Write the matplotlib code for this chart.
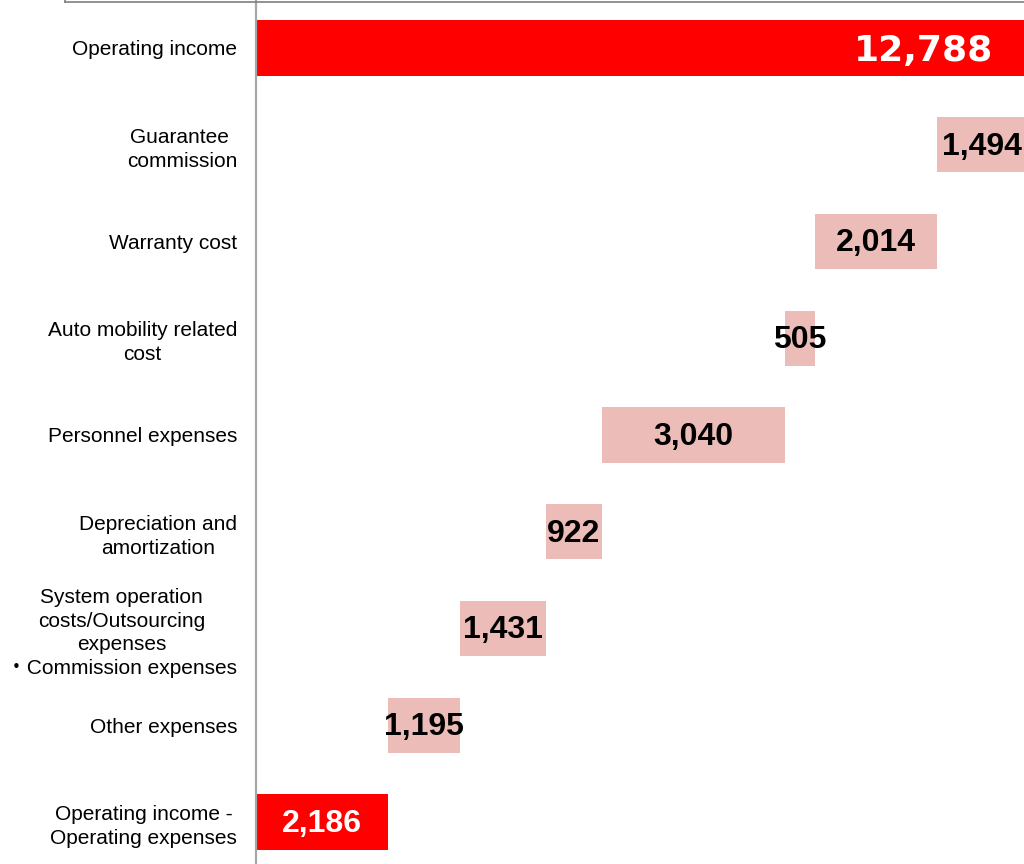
import numpy as np
import matplotlib; matplotlib.use('Agg')
import matplotlib.pyplot as plt
from matplotlib.lines import Line2D

# waterfall data (top to bottom)
labels = ['Operating income', 'Guarantee \ncommission', 'Warranty cost',
          'Auto mobility related\ncost', 'Personnel expenses',
          'Depreciation and\namortization',
          'System operation\ncosts/Outsourcing\nexpenses\n\u30fbCommission expenses',
          'Other expenses', 'Operating income -\nOperating expenses']
income = 12788
costs = [1494, 2014, 505, 3040, 922, 1431, 1195]
result = 2186

red = '#FF0000'
pink = '#ECBDB8'

# left edges / widths of the floating bars
lefts = [0]
widths = [income]
level = income
for c in costs:
    level -= c
    lefts.append(level)
    widths.append(c)
lefts.append(0)
widths.append(result)
colors = [red] + [pink] * len(costs) + [red]
ypos = np.arange(len(labels))

fig = plt.figure(figsize=(10.24, 8.64), dpi=100)
ax = fig.add_axes([0.25, 0.0, 0.75, 1.0])
ax.barh(ypos, widths, left=lefts, height=0.57, color=colors)

ax.set_xlim(0, 12740)
ax.set_ylim(8.434, -0.496)

ax.set_yticks(ypos)
ax.set_yticklabels(labels, family=['Liberation Sans', 'Noto Sans CJK JP'],
                   fontsize=15, linespacing=1.32)
for t in ax.get_yticklabels():
    t.set_multialignment('center')
ax.tick_params(axis='y', length=0, pad=13.5)
ax.set_xticks([])
for s in ['top', 'right', 'bottom']:
    ax.spines[s].set_visible(False)
ax.spines['left'].set_color('#A6A6A6')
ax.spines['left'].set_linewidth(1.6)

# value labels
ax.text(income - 560, 0.03, '{:,}'.format(income), ha='right', va='center',
        color='white', fontsize=26, fontweight='bold', family='DejaVu Sans')
for i in range(1, len(labels) - 1):
    ax.text(lefts[i] + widths[i] / 2, i + 0.02, '{:,}'.format(widths[i]),
            ha='center', va='center', color='black', fontsize=23,
            fontweight='bold', family='Liberation Sans')
ax.text(result / 2, len(labels) - 1 + 0.02, '{:,}'.format(result),
        ha='center', va='center', color='white', fontsize=23,
        fontweight='bold', family='Liberation Sans')

# frame edge of the box above (cut off)
fig.add_artist(Line2D([0.0635, 1.0], [0.9977, 0.9977], color='#7F7F7F', lw=1.2))
fig.add_artist(Line2D([0.0635, 0.0635], [0.9977, 1.0], color='#7F7F7F', lw=1.2))

fig.savefig('out.png', dpi=100)
